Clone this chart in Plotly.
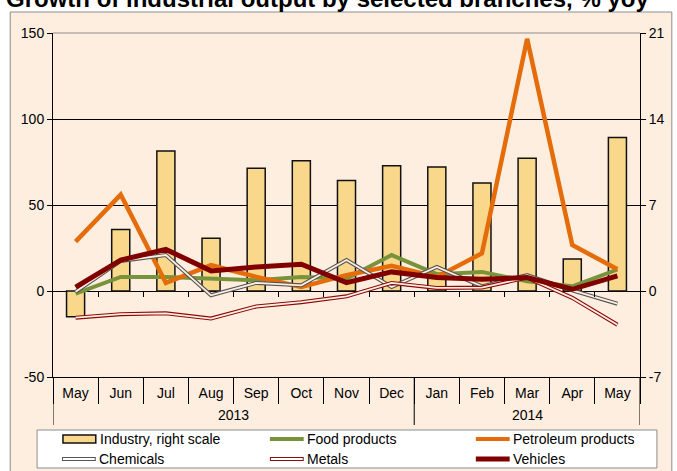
import plotly.graph_objects as go

months = ["May", "Jun", "Jul", "Aug", "Sep", "Oct", "Nov", "Dec", "Jan", "Feb", "Mar", "Apr", "May"]
years = ["2013"] * 8 + ["2014"] * 5
industry = [-2.1, 5.0, 11.4, 4.3, 10.0, 10.6, 9.0, 10.2, 10.1, 8.8, 10.8, 2.6, 12.5]   # right scale
food = [-1.5, 8.2, 8.2, 7.2, 6.3, 8.2, 7.2, 20.9, 9.8, 11.1, 5.7, 2.7, 12.5]
petroleum = [28.7, 56.0, 4.7, 15.0, 8.2, 2.3, 9.2, 14.6, 8.2, 21.9, 146.6, 26.7, 12.7]
chemicals = [-0.5, 17.5, 20.9, -2.5, 4.7, 3.3, 18.0, 2.3, 14.0, 2.7, 9.2, 0.4, -7.4]
metals = [-15.5, -13.5, -13.0, -16.0, -9.0, -6.5, -3.1, 4.7, 1.8, 2.0, 7.8, -4.0, -19.6]
vehicles = [2.3, 18.0, 24.2, 11.7, 14.0, 15.6, 4.9, 11.1, 7.8, 6.8, 7.8, 1.0, 8.8]

left_ticks = [-50, 0, 50, 100, 150]
right_ticks = [-7, 0, 7, 14, 21]
title_text = "Growth of industrial output by selected branches, % yoy"

x_idx = list(range(len(months)))

FONT = "Arial, Liberation Sans, sans-serif"
PEACH = "#FEEEE0"
BAR = "#F9D88B"
GREEN = "#77933C"
ORANGE = "#E46C0A"
GREY = "#555555"
METAL = "#8B0A0A"
VEH = "#800000"

W, H = 677, 471
L, R, T, B = 53, 643, 33, 377
PW, PH = R - L, B - T


def px(p):
    return (p - L) / PW


def py(p):
    return (B - p) / PH


fig = go.Figure()

fig.add_trace(go.Bar(x=x_idx, y=industry, width=0.4, marker=dict(color=BAR, line=dict(color="#111111", width=1.5)),
                     xaxis="x", yaxis="y", showlegend=False, name="Industry, right scale"))


def line(vals, color, width, name):
    fig.add_trace(go.Scatter(x=x_idx, y=vals, mode="lines", line=dict(color=color, width=width),
                             xaxis="x", yaxis="y2", showlegend=False, name=name))


line(food, GREEN, 4, "Food products")
line(petroleum, ORANGE, 4.5, "Petroleum products")
line(chemicals, GREY, 4, "Chemicals")
line(chemicals, PEACH, 1.8, "Chemicals")
line(metals, METAL, 4, "Metals")
line(metals, PEACH, 1.8, "Metals")
line(vehicles, VEH, 5, "Vehicles")

# invisible trace carrying the zero-level tick axis
fig.add_trace(go.Scatter(x=x_idx, y=industry, mode="none", xaxis="x2", yaxis="y",
                         showlegend=False, hoverinfo="skip"))

tickfont = dict(family=FONT, size=14, color="black")

fig.update_layout(
    width=W, height=H, autosize=False,
    margin=dict(l=L, r=W - R, t=T, b=H - B, pad=0),
    paper_bgcolor="white", plot_bgcolor="rgba(0,0,0,0)",
    barmode="overlay",
    xaxis=dict(range=[-0.5, len(months) - 0.5], tickmode="array", tickvals=x_idx, ticktext=months,
               ticks="", showline=True, linecolor="black", linewidth=1, showgrid=False, zeroline=False,
               tickfont=tickfont, ticklabelstandoff=3,
               minor=dict(tick0=-0.5, dtick=1, ticks="outside", ticklen=26, tickcolor="black",
                          tickwidth=1, showgrid=False)),
    xaxis2=dict(overlaying="x", anchor="free", position=0.25, side="bottom",
                range=[-0.5, len(months) - 0.5], tickmode="array",
                tickvals=[i + 0.5 for i in x_idx[:-1]], ticks="outside", ticklen=5, tickcolor="black",
                showticklabels=False, showline=False, showgrid=False, zeroline=False),
    yaxis=dict(side="right", range=[right_ticks[0], right_ticks[-1]], tickmode="array", tickvals=right_ticks,
               ticktext=[str(t) for t in right_ticks],
               ticks="outside", ticklen=5, tickcolor="black", showline=True, linecolor="black",
               showgrid=True, gridcolor="black", gridwidth=1, zeroline=True, zerolinecolor="black",
               zerolinewidth=1, tickfont=tickfont),
    yaxis2=dict(side="left", overlaying="y", range=[left_ticks[0], left_ticks[-1]], tickmode="array",
                tickvals=left_ticks, ticktext=[str(t) for t in left_ticks],
                ticks="outside", ticklen=5, tickcolor="black", showline=True,
                linecolor="black", showgrid=False, zeroline=False, tickfont=tickfont),
)

shapes = []
# chart area background + border
shapes.append(dict(type="rect", xref="paper", yref="paper", x0=px(10), x1=px(675), y0=py(475), y1=py(12),
                   fillcolor=PEACH, line=dict(color="#8C8C8C", width=1), layer="below"))
# top border of plot area
shapes.append(dict(type="line", xref="paper", yref="paper", x0=0, x1=1, y0=1, y1=1,
                   line=dict(color="#8C8C8C", width=1), layer="above"))
# year group separators
bounds = [-0.5] + [i + 0.5 for i in range(len(years) - 1) if years[i] != years[i + 1]] + [len(years) - 0.5]
for b in bounds:
    shapes.append(dict(type="line", xref="x", yref="paper", x0=b, x1=b, y0=0, y1=py(425),
                       line=dict(color="black", width=1)))

# legend box
shapes.append(dict(type="rect", xref="paper", yref="paper", x0=px(37), x1=px(660), y0=py(468), y1=py(430),
                   fillcolor="white", line=dict(color="#8C8C8C", width=1)))

annotations = []
for yr in sorted(set(years)):
    idx = [i for i, y in enumerate(years) if y == yr]
    annotations.append(dict(x=sum(idx) / len(idx), xref="x", y=py(415), yref="paper", text=yr,
                            showarrow=False, font=tickfont, xanchor="center", yanchor="middle"))

annotations.append(dict(x=px(4), xref="paper", y=py(14), yref="paper", text="<b>" + title_text + "</b>",
                        showarrow=False, xanchor="left", yanchor="bottom",
                        font=dict(family=FONT, size=24, color="black")))

# legend entries (manual, Excel style)
legend_items = [
    ("Industry, right scale", "bar", 63, 439),
    ("Food products", (GREEN, 4, None), 271, 439),
    ("Petroleum products", (ORANGE, 4, None), 478, 439),
    ("Chemicals", (GREY, 4, "white"), 62, 459),
    ("Metals", (METAL, 4, "white"), 271, 459),
    ("Vehicles", (VEH, 5, None), 478, 459),
]
for name, sty, x0, yc in legend_items:
    if sty == "bar":
        shapes.append(dict(type="rect", xref="paper", yref="paper", x0=px(x0), x1=px(x0 + 33),
                           y0=py(yc + 4), y1=py(yc - 4), fillcolor=BAR, line=dict(color="#111111", width=1.5)))
    else:
        c, w, inner = sty
        shapes.append(dict(type="line", xref="paper", yref="paper", x0=px(x0), x1=px(x0 + 34),
                           y0=py(yc), y1=py(yc), line=dict(color=c, width=w)))
        if inner:
            shapes.append(dict(type="line", xref="paper", yref="paper", x0=px(x0 + 1), x1=px(x0 + 33),
                               y0=py(yc), y1=py(yc), line=dict(color=inner, width=1.8)))
    annotations.append(dict(x=px(x0 + 35), xref="paper", y=py(yc), yref="paper", text=name, showarrow=False,
                            xanchor="left", yanchor="middle", font=tickfont))

fig.update_layout(shapes=shapes, annotations=annotations)

fig.write_html("out.html", config={"displayModeBar": False},
               post_script="document.body.style.margin='0';document.body.style.overflow='hidden';")
